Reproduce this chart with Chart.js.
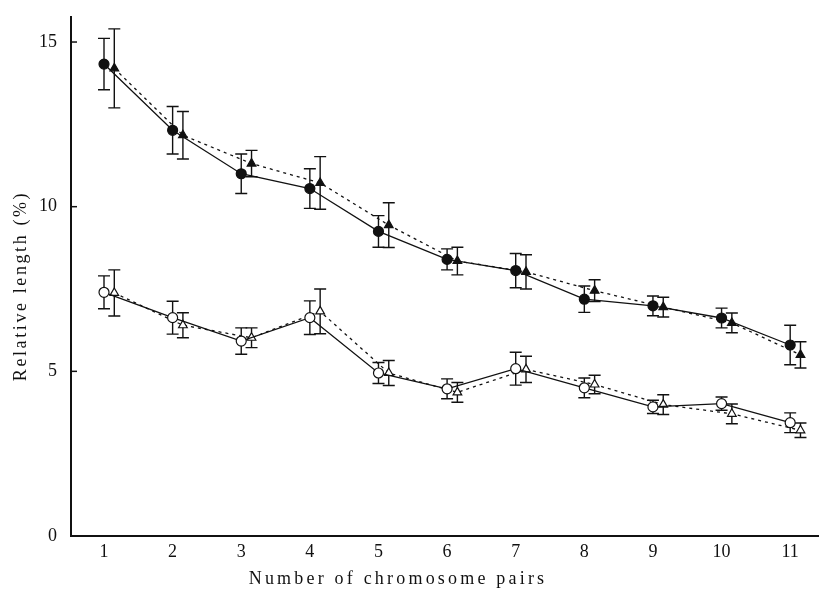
<!DOCTYPE html>
<html>
<head>
<meta charset="utf-8">
<script src="https://cdn.jsdelivr.net/npm/chart.js@4.4.1/dist/chart.umd.min.js"></script>
<style>
  html, body { margin: 0; padding: 0; background: #fff; overflow: hidden; }
  #wrap { width: 819px; height: 592px; position: relative; }
</style>
</head>
<body>
<div id="wrap"><canvas id="chart" width="819" height="592"></canvas></div>
<script>
// Chromosome pair numbers
const pairs = [1, 2, 3, 4, 5, 6, 7, 8, 9, 10, 11];
// Y axis tick values
const yTicks = [0, 5, 10, 15];

// Upper group, filled circles (solid line): mean and error
const filledCircleMean = [14.33, 12.32, 11.00, 10.55, 9.25, 8.40, 8.06, 7.19, 6.99, 6.62, 5.80];
const filledCircleErr  = [0.78, 0.72, 0.60, 0.60, 0.48, 0.32, 0.52, 0.40, 0.30, 0.30, 0.60];
// Upper group, filled triangles (dotted line)
const filledTriMean = [14.20, 12.17, 11.31, 10.72, 9.44, 8.35, 8.02, 7.45, 6.95, 6.47, 5.50];
const filledTriErr  = [1.20, 0.72, 0.40, 0.80, 0.68, 0.42, 0.52, 0.33, 0.30, 0.30, 0.40];
// Lower group, open circles (solid line)
const openCircleMean = [7.40, 6.63, 5.92, 6.63, 4.95, 4.47, 5.08, 4.50, 3.92, 4.02, 3.44];
const openCircleErr  = [0.50, 0.50, 0.40, 0.51, 0.32, 0.30, 0.50, 0.30, 0.20, 0.20, 0.30];
// Lower group, open triangles (dotted line)
const openTriMean = [7.38, 6.40, 6.02, 6.82, 4.95, 4.36, 5.06, 4.60, 3.99, 3.71, 3.21];
const openTriErr  = [0.70, 0.38, 0.30, 0.68, 0.38, 0.30, 0.40, 0.28, 0.30, 0.30, 0.22];

// triangles sit a little to the right of each pair position
const TRI_SHIFT = 0.15;
const INK = '#111';
const SERIF = '"Liberation Serif", "DejaVu Serif", serif';

function pts(means, errs, shift) {
  return pairs.map((p, i) => ({ x: p + shift, y: means[i], err: errs[i] }));
}

function series(label, means, errs, shift, style, filled, dashed) {
  return {
    label,
    data: pts(means, errs, shift),
    borderColor: INK,
    borderWidth: 1.3,
    borderDash: dashed ? [3, 4] : [],
    pointStyle: style,
    pointRadius: 5,
    pointHoverRadius: 5,
    pointBackgroundColor: filled ? INK : '#fff',
    pointBorderColor: INK,
    pointBorderWidth: 1.2,
    tension: 0,
    fill: false
  };
}

// vertical error bars with caps, drawn through the chart's scales
const errorBars = {
  id: 'errorBars',
  beforeDatasetsDraw(chart) {
    const { ctx, scales: { x, y } } = chart;
    ctx.save();
    ctx.strokeStyle = INK;
    ctx.lineWidth = 1.4;
    ctx.setLineDash([]);
    chart.data.datasets.forEach(ds => {
      ds.data.forEach(d => {
        const px = x.getPixelForValue(d.x);
        const top = y.getPixelForValue(d.y + d.err);
        const bot = y.getPixelForValue(d.y - d.err);
        ctx.beginPath();
        ctx.moveTo(px, top); ctx.lineTo(px, bot);
        ctx.moveTo(px - 6, top); ctx.lineTo(px + 6, top);
        ctx.moveTo(px - 6, bot); ctx.lineTo(px + 6, bot);
        ctx.stroke();
      });
    });
    ctx.restore();
  }
};

// inward tick marks on the value axis and spaced axis titles
const axisDecor = {
  id: 'axisDecor',
  afterDraw(chart) {
    const { ctx, chartArea, scales: { y } } = chart;
    ctx.save();
    ctx.strokeStyle = INK;
    ctx.lineWidth = 1.5;
    yTicks.forEach(v => {
      if (v === 0) return;
      const py = y.getPixelForValue(v);
      ctx.beginPath();
      ctx.moveTo(chartArea.left, py);
      ctx.lineTo(chartArea.left + 6, py);
      ctx.stroke();
    });
    ctx.fillStyle = INK;
    ctx.font = '18px ' + SERIF;
    ctx.letterSpacing = '3.2px';
    ctx.textAlign = 'center';
    ctx.textBaseline = 'middle';
    ctx.fillText('Number of chromosome pairs', 398, 579);
    ctx.translate(21, 286);
    ctx.rotate(-Math.PI / 2);
    ctx.letterSpacing = '2.6px';
    ctx.fillText('Relative length (%)', 0, 0);
    ctx.restore();
  }
};

new Chart(document.getElementById('chart'), {
  type: 'line',
  data: {
    datasets: [
      series('filled circles', filledCircleMean, filledCircleErr, 0, 'circle', true, false),
      series('filled triangles', filledTriMean, filledTriErr, TRI_SHIFT, 'triangle', true, true),
      series('open circles', openCircleMean, openCircleErr, 0, 'circle', false, false),
      series('open triangles', openTriMean, openTriErr, TRI_SHIFT, 'triangle', false, true)
    ]
  },
  options: {
    responsive: false,
    animation: false,
    layout: { autoPadding: false, padding: { top: 17, right: 0, left: 0, bottom: 0 } },
    plugins: {
      legend: { display: false },
      tooltip: { enabled: false }
    },
    scales: {
      x: {
        type: 'linear',
        min: 0.519,
        max: 11.42,
        afterBuildTicks(scale) { scale.ticks = pairs.map(v => ({ value: v })); },
        afterFit(scale) {
          scale.height = 56;
          scale.paddingLeft = 0;
          scale.paddingRight = 0;
        },
        grid: { display: false, drawTicks: false },
        border: { display: true, color: INK, width: 2 },
        ticks: {
          color: INK,
          padding: 5,
          maxRotation: 0,
          autoSkip: false,
          font: { family: SERIF, size: 18 },
          callback: v => String(v)
        }
      },
      y: {
        min: 0,
        max: 15.76,
        afterBuildTicks(scale) { scale.ticks = yTicks.map(v => ({ value: v })); },
        afterFit(scale) {
          scale.width = 71;
          scale.paddingTop = 0;
          scale.paddingBottom = 0;
        },
        grid: { display: false, drawTicks: false },
        border: { display: true, color: INK, width: 2 },
        ticks: {
          color: INK,
          padding: 14,
          font: { family: SERIF, size: 18 },
          callback: v => String(v)
        }
      }
    }
  },
  plugins: [errorBars, axisDecor]
});
</script>
</body>
</html>
